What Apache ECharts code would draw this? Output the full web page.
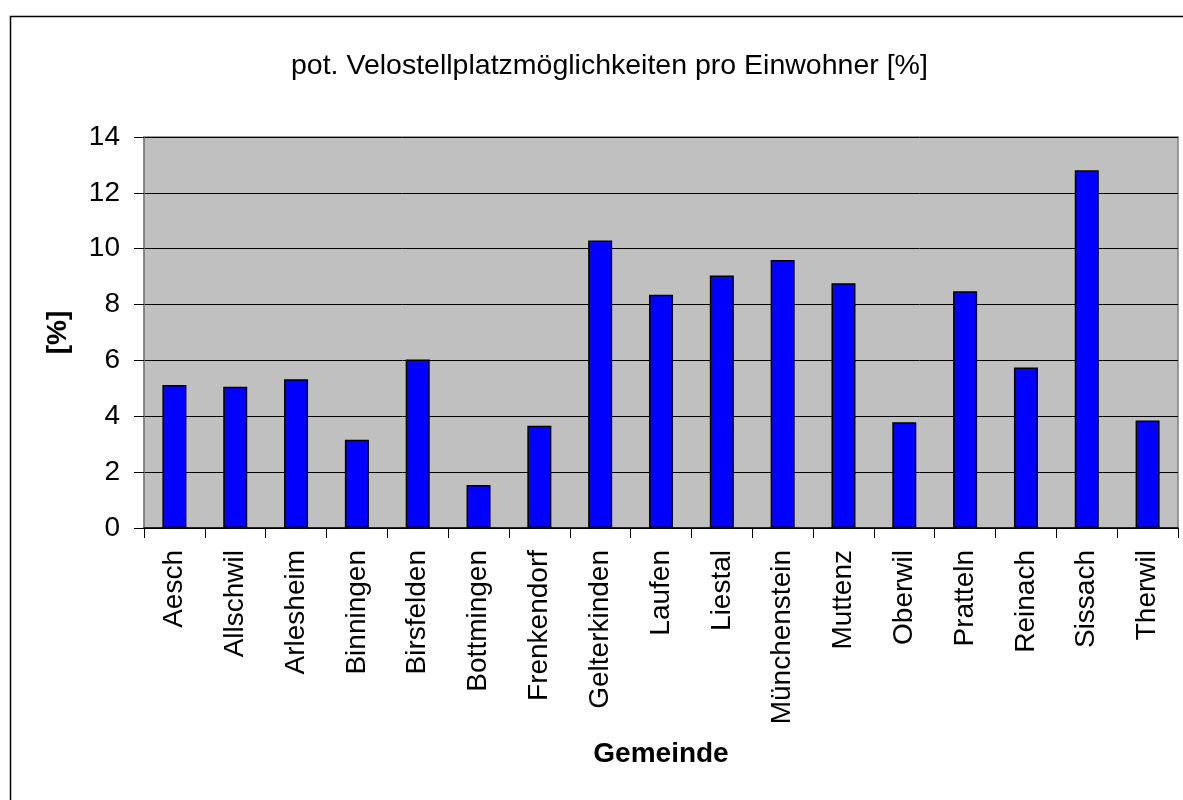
<!DOCTYPE html>
<html>
<head>
<meta charset="utf-8">
<script src="https://cdn.jsdelivr.net/npm/echarts@6/dist/echarts.min.js"></script>
<style>
  html, body { margin: 0; padding: 0; background: #fff; }
  #chart { width: 1183px; height: 800px; }
</style>
</head>
<body>
<div id="chart"></div>
<script>
    // Gemeinden und Werte (pot. Velostellplätze pro Einwohner, %)
    let gemeinden = ["Aesch","Allschwil","Arlesheim","Binningen","Birsfelden","Bottmingen","Frenkendorf","Gelterkinden","Laufen","Liestal","Münchenstein","Muttenz","Oberwil","Pratteln","Reinach","Sissach","Therwil"]
    let werte = [5.12, 5.06, 5.33, 3.16, 6.03, 1.54, 3.66, 10.29, 8.35, 9.04, 9.60, 8.76, 3.79, 8.48, 5.75, 12.81, 3.85]
    let yTicks = [0, 2, 4, 6, 8, 10, 12, 14]

    let font = '"Liberation Sans", Arial, sans-serif'
    let myChart = echarts.init(document.getElementById("chart"))
    const option = {
        animation: false,
        backgroundColor: '#ffffff',
        textStyle: { fontFamily: font },
        title: {
            text: "pot. Velostellplatzmöglichkeiten pro Einwohner [%]",
            left: 286,
            top: 47,
            textStyle: { fontFamily: font, fontSize: 28.5, fontWeight: 'normal', color: '#000' }
        },
        graphic: [
            {
                type: 'rect',
                left: 8,
                top: 14,
                shape: { width: 1300, height: 900 },
                style: { fill: 'none', stroke: '#000', lineWidth: 1.5 },
                silent: true
            }
        ],
        grid: {
            left: 144,
            right: 5,
            top: 137,
            bottom: 272,
            show: true,
            backgroundColor: '#c0c0c0',
            borderColor: '#808080',
            borderWidth: 1.5
        },
        xAxis: [
            {
                type: 'category',
                data: gemeinden,
                name: 'Gemeinde',
                nameLocation: 'middle',
                nameGap: 212,
                nameTextStyle: { fontFamily: font, fontSize: 28, fontWeight: 'bold', color: '#000' },
                axisLine: { lineStyle: { color: '#000', width: 1.5 } },
                axisTick: { show: true, length: 10, lineStyle: { color: '#000' } },
                axisLabel: {
                    rotate: 90,
                    margin: 22,
                    interval: 0,
                    fontFamily: font,
                    fontSize: 28,
                    color: '#000'
                }
            }
        ],
        yAxis: [
            {
                type: 'value',
                min: yTicks[0],
                max: yTicks[yTicks.length - 1],
                interval: 2,
                name: '[%]',
                nameLocation: 'middle',
                nameRotate: 90,
                nameGap: 72,
                nameTextStyle: { fontFamily: font, fontSize: 28, fontWeight: 'bold', color: '#000' },
                axisLine: { show: true, lineStyle: { color: '#808080', width: 1.5 } },
                axisTick: { show: true, length: 10, lineStyle: { color: '#000' } },
                axisLabel: { margin: 24, fontFamily: font, fontSize: 28, color: '#000' },
                splitLine: { show: true, lineStyle: { color: '#000', width: 1 } }
            }
        ],
        series: [
            {
                name: 'pot. Velostellplätze',
                type: 'bar',
                barWidth: 24,
                data: werte,
                itemStyle: {
                    color: '#0000ff',
                    borderColor: '#000',
                    borderWidth: 1.5
                }
            }
        ]
    }
    myChart.setOption(option)
</script>
</body>
</html>
